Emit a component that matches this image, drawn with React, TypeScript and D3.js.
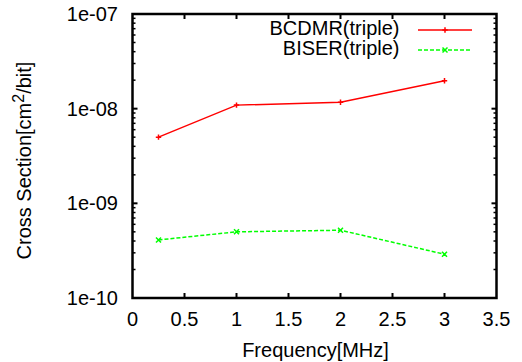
import * as d3 from 'd3';

const frequencies = [0.25, 1, 2, 3];
const bcdmrValues = [5.0e-9, 1.09e-8, 1.17e-8, 1.97e-8];
const biserValues = [4.1e-10, 5.0e-10, 5.2e-10, 2.9e-10];
const seriesNames = ['BCDMR(triple)', 'BISER(triple)'];
const xTicks = [0, 0.5, 1, 1.5, 2, 2.5, 3, 3.5];
const xTickLabels = ['0', '0.5', '1', '1.5', '2', '2.5', '3', '3.5'];
const yTicks = [1e-10, 1e-9, 1e-8, 1e-7];
const yTickLabels = ['1e-10', '1e-09', '1e-08', '1e-07'];

const W = 522;
const H = 362;
const left = 132.5;
const right = 496.5;
const top = 14;
const bottom = 298;
const FONT = '"Liberation Sans", Arial, Helvetica, sans-serif';
const FS = 20;

const x = d3.scaleLinear().domain([0, 3.5]).range([left, right]);
const y = d3.scaleLog().domain([1e-10, 1e-7]).range([bottom, top]);

// minor ticks 2..9 per decade
const minorTicks: number[] = [];
for (let e = -10; e < -7; e++) {
  for (let m = 2; m <= 9; m++) minorTicks.push(m * Math.pow(10, e));
}

const plus = (cx: number, cy: number, s = 2.7) => `M${cx - s},${cy}H${cx + s}M${cx},${cy - s}V${cy + s}`;
const cross = (cx: number, cy: number, s = 2.5) =>
  `M${cx - s},${cy - s}L${cx + s},${cy + s}M${cx - s},${cy + s}L${cx + s},${cy - s}`;

export default function App() {
  const line = d3
    .line<[number, number]>()
    .x(d => x(d[0]))
    .y(d => y(d[1]));

  const redPts = frequencies.map((f, i) => [f, bcdmrValues[i]] as [number, number]);
  const greenPts = frequencies.map((f, i) => [f, biserValues[i]] as [number, number]);

  return (
    <svg
      width={W}
      height={H}
      style={{ position: 'absolute', left: 0, top: 0, background: '#fff' }}
      fontFamily={FONT}
      fontSize={FS}
    >
      {/* ticks */}
      <g stroke="#000" strokeWidth={2}>
        {xTicks.slice(1, -1).map(t => (
          <g key={'xt' + t}>
            <line x1={x(t)} x2={x(t)} y1={bottom} y2={bottom - 5} />
            <line x1={x(t)} x2={x(t)} y1={top} y2={top + 5} />
          </g>
        ))}
        {yTicks.slice(1, -1).map(t => (
          <g key={'yt' + t}>
            <line x1={left} x2={left + 5} y1={y(t)} y2={y(t)} />
            <line x1={right} x2={right - 5} y1={y(t)} y2={y(t)} />
          </g>
        ))}
        {minorTicks.map(t => (
          <g key={'ym' + t}>
            <line x1={left} x2={left + 3} y1={y(t)} y2={y(t)} strokeWidth={1.5} />
            <line x1={right} x2={right - 3} y1={y(t)} y2={y(t)} strokeWidth={1.5} />
          </g>
        ))}
      </g>

      {/* data */}
      <path d={line(redPts) ?? ''} fill="none" stroke="#ff0000" strokeWidth={1.5} />
      {redPts.map((p, i) => (
        <path key={'rp' + i} d={plus(x(p[0]), y(p[1]))} stroke="#ff0000" strokeWidth={1.5} />
      ))}
      <path
        d={line(greenPts) ?? ''}
        fill="none"
        stroke="#00ff00"
        strokeWidth={1.5}
        strokeDasharray="4,2"
      />
      {greenPts.map((p, i) => (
        <path key={'gp' + i} d={cross(x(p[0]), y(p[1]))} stroke="#00ff00" strokeWidth={1.5} />
      ))}

      {/* border */}
      <rect
        x={left}
        y={top}
        width={right - left}
        height={bottom - top}
        fill="none"
        stroke="#000"
        strokeWidth={2.5}
      />

      {/* tick labels */}
      {xTicks.map((t, i) => (
        <text key={'xl' + t} x={x(t)} y={326} textAnchor="middle">
          {xTickLabels[i]}
        </text>
      ))}
      {yTicks.map((t, i) => (
        <text key={'yl' + t} x={118} y={y(t) + 7} textAnchor="end">
          {yTickLabels[i]}
        </text>
      ))}

      {/* axis titles */}
      <text x={(left + right) / 2 + 1} y={356.5} textAnchor="middle">
        Frequency[MHz]
      </text>
      <text transform={`translate(30.5,${160.5}) rotate(-90)`} textAnchor="middle">
        Cross Section[cm
        <tspan dy={-7} fontSize={16}>
          2
        </tspan>
        <tspan dy={7}>/bit]</tspan>
      </text>

      {/* legend */}
      <text x={399.5} y={34.5} textAnchor="end">
        {seriesNames[0]}
      </text>
      <line x1={418} x2={472} y1={30} y2={30} stroke="#ff0000" strokeWidth={1.5} />
      <path d={plus(445, 30)} stroke="#ff0000" strokeWidth={1.5} />
      <text x={399.5} y={54.5} textAnchor="end">
        {seriesNames[1]}
      </text>
      <line
        x1={418}
        x2={472}
        y1={50}
        y2={50}
        stroke="#00ff00"
        strokeWidth={1.5}
        strokeDasharray="4,2"
      />
      <path d={cross(445, 50)} stroke="#00ff00" strokeWidth={1.5} />
    </svg>
  );
}
